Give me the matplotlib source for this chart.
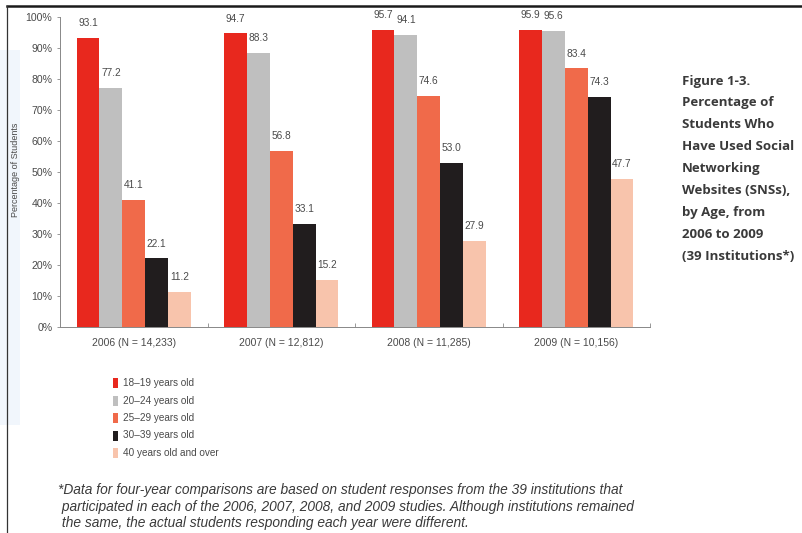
import matplotlib
matplotlib.use("Agg")
import matplotlib.pyplot as plt
from matplotlib.lines import Line2D
from matplotlib.patches import Rectangle
import numpy as np

years = ["2006 (N = 14,233)", "2007 (N = 12,812)", "2008 (N = 11,285)", "2009 (N = 10,156)"]
age_groups = ["18\u201319 years old", "20\u201324 years old", "25\u201329 years old",
              "30\u201339 years old", "40 years old and over"]
age_18_19 = [93.1, 94.7, 95.7, 95.9]
age_20_24 = [77.2, 88.3, 94.1, 95.6]
age_25_29 = [41.1, 56.8, 74.6, 83.4]
age_30_39 = [22.1, 33.1, 53.0, 74.3]
age_40_up = [11.2, 15.2, 27.9, 47.7]
series = [age_18_19, age_20_24, age_25_29, age_30_39, age_40_up]
colors = ["#E8281E", "#BFBFBF", "#F06A4A", "#211D1E", "#F8C4AC"]
y_ticks = [0, 10, 20, 30, 40, 50, 60, 70, 80, 90, 100]

narrow = ["Liberation Sans", "DejaVu Sans"]
text_gray = "#4a4a4a"

fig = plt.figure(figsize=(8.02, 5.33), dpi=100)
W, H = 802, 533

def fx(px):
    return px / W

def fy(py):
    return 1 - py / H

# page frame
fig.add_artist(Rectangle((0, fy(425)), fx(20), fy(50) - fy(425), transform=fig.transFigure,
                         facecolor="#f1f6fc", edgecolor="none", zorder=0))
fig.add_artist(Line2D([fx(7), 1], [fy(6), fy(6)], transform=fig.transFigure,
                      color="#1a1a1a", lw=1.8))
fig.add_artist(Line2D([fx(7), fx(7)], [fy(6), 0], transform=fig.transFigure,
                      color="#333333", lw=0.9))

ax = fig.add_axes([fx(60), fy(327), fx(650) - fx(60), fy(17) - fy(327)])
ax.set_facecolor("none")

x = np.arange(len(years))
w = 0.155
for j, (vals, c) in enumerate(zip(series, colors)):
    pos = x + (j - 2) * w
    ax.bar(pos, vals, width=w, color=c, edgecolor="none", label=age_groups[j])
    for p, v in zip(pos, vals):
        ax.text(p, v + 3.2, f"{v:.1f}", ha="center", va="bottom", fontsize=7.3,
                color=text_gray, family=narrow)

ax.set_xlim(-0.5, len(years) - 0.5)
ax.set_ylim(0, 100)
ax.set_yticks(y_ticks)
ax.set_yticklabels([f"{t}%" for t in y_ticks], fontsize=7.6, color=text_gray, family=narrow)
ax.tick_params(axis="y", length=2.5, width=0.6, color="#888888", pad=3)
ax.set_xticks(x)
ax.set_xticklabels(years, fontsize=7.5, color=text_gray, family=narrow)
ax.tick_params(axis="x", length=0, pad=8)
ax.set_xticks(np.arange(len(years)) + 0.5, minor=True)
ax.tick_params(axis="x", which="minor", direction="in", length=3, width=0.6, color="#888888")
for s in ["top", "right"]:
    ax.spines[s].set_visible(False)
for s in ["left", "bottom"]:
    ax.spines[s].set_color("#888888")
    ax.spines[s].set_linewidth(0.7)

fig.text(fx(16), fy(170), "Percentage of Students", rotation=90, ha="center", va="center",
         fontsize=6.5, color=text_gray, family=narrow)

# legend
for j, (lab, c) in enumerate(zip(age_groups, colors)):
    ypx = 383 + j * 17.5
    fig.add_artist(Rectangle((fx(113), fy(ypx + 5)), fx(5), fy(ypx - 5) - fy(ypx + 5),
                             transform=fig.transFigure, facecolor=c, edgecolor="none"))
    fig.text(fx(123), fy(ypx), lab, ha="left", va="center", fontsize=7.2,
             color=text_gray, family=narrow)

# figure caption
caption = ["Figure 1-3.", "Percentage of", "Students Who", "Have Used Social", "Networking",
           "Websites (SNSs),", "by Age, from", "2006 to 2009", "(39 Institutions*)"]
for i, line in enumerate(caption):
    fig.text(fx(682), fy(81 + i * 21.9), line, ha="left", va="center", fontsize=9.5,
             fontweight="bold", color="#3a3a3a", family=["Open Sans", "DejaVu Sans"])

note = ["*Data for four-year comparisons are based on student responses from the 39 institutions that",
        " participated in each of the 2006, 2007, 2008, and 2009 studies. Although institutions remained",
        " the same, the actual students responding each year were different."]
for i, line in enumerate(note):
    fig.text(fx(58), fy(490 + i * 16.5), line, ha="left", va="center", fontsize=9.9,
             style="italic", color="#3a3a3a", family=["Liberation Sans", "DejaVu Sans"])

fig.savefig("out.png", dpi=100)
